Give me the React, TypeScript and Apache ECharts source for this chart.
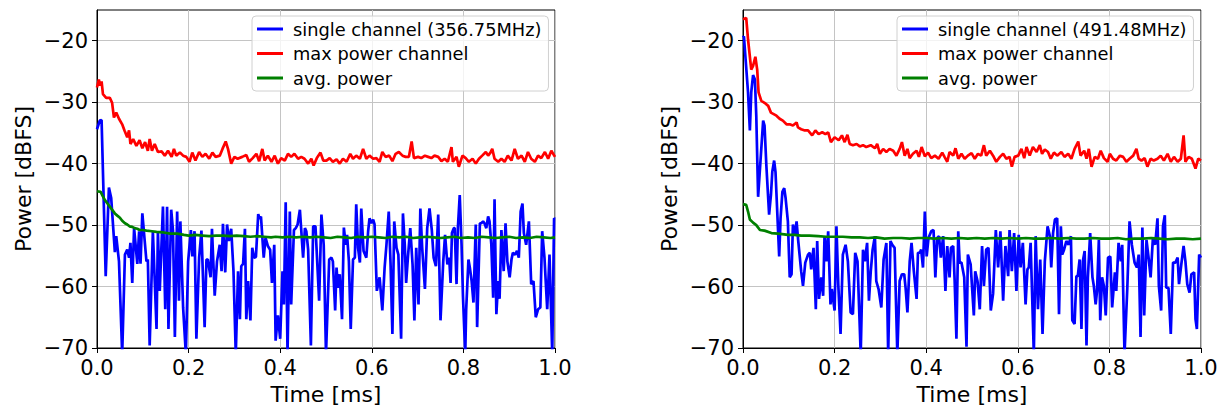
import React, { useEffect, useRef } from "react";
import * as echarts from "echarts";

const xTickValues = [0, 0.2, 0.4, 0.6, 0.8, 1.0];
const yTickValues = [-70, -60, -50, -40, -30, -20];
const xTitle = "Time [ms]";
const yTitle = "Power [dBFS]";
const leftNames = ["single channel (356.75MHz)", "max power channel", "avg. power"];
const rightNames = ["single channel (491.48MHz)", "max power channel", "avg. power"];

const leftSingle = [
  [0, -34.4], [0.006, -33.0], [0.010, -32.9], [0.019, -58.3], [0.026, -43.9], [0.031, -45.6], [0.039, -54.4], [0.042, -51.8],
  [0.048, -55.9], [0.055, -71], [0.061, -54.8], [0.066, -54.0], [0.070, -55.3], [0.073, -52.9], [0.077, -59.4], [0.081, -50.5],
  [0.088, -56.3], [0.092, -51.0], [0.095, -56.3], [0.099, -48.1], [0.103, -51.6], [0.108, -55.9], [0.111, -55.6], [0.115, -69.6],
  [0.122, -51.0], [0.130, -66.9], [0.133, -51.0], [0.137, -60.7], [0.144, -47.0], [0.149, -63.7], [0.153, -47.0], [0.156, -66.9],
  [0.162, -47.5], [0.166, -51.0], [0.170, -68.2], [0.175, -47.8], [0.179, -62.3], [0.182, -49.4], [0.188, -63.4], [0.194, -71],
  [0.199, -55.9], [0.205, -50.8], [0.208, -55.1], [0.213, -51.0], [0.217, -68.5], [0.223, -55.3], [0.228, -50.9], [0.235, -66.6],
  [0.239, -55.6], [0.242, -55.6], [0.248, -58.5], [0.251, -50.6], [0.257, -61.5], [0.262, -55.9], [0.268, -53.2], [0.272, -57.5],
  [0.275, -49.8], [0.280, -57.7], [0.284, -49.9], [0.288, -52.6], [0.293, -50.6], [0.298, -57.5], [0.303, -71], [0.308, -57.5],
  [0.312, -65.3], [0.315, -56.7], [0.319, -56.3], [0.323, -50.6], [0.326, -65.3], [0.330, -59.1], [0.335, -65.5], [0.339, -53.7],
  [0.343, -55.3], [0.347, -55.2], [0.352, -48.2], [0.355, -49.0], [0.358, -48.6], [0.364, -55.3], [0.368, -52.1], [0.373, -53.4],
  [0.378, -54.0], [0.382, -59.4], [0.387, -53.2], [0.390, -68.8], [0.395, -64.7], [0.400, -68.5], [0.405, -57.5], [0.408, -62.9],
  [0.412, -46.3], [0.416, -71], [0.421, -47.8], [0.424, -62.9], [0.430, -50.8], [0.434, -50.5], [0.438, -49.9], [0.443, -47.5],
  [0.450, -55.3], [0.454, -50.5], [0.457, -51.0], [0.461, -54.0], [0.467, -69.6], [0.472, -50.2], [0.477, -50.2], [0.485, -62.3],
  [0.490, -48.3], [0.495, -53.2], [0.500, -71], [0.507, -55.6], [0.512, -55.3], [0.515, -55.9], [0.520, -63.9], [0.523, -56.9],
  [0.526, -60.2], [0.530, -58.0], [0.535, -65.3], [0.539, -50.4], [0.543, -53.2], [0.546, -51.6], [0.550, -55.9], [0.554, -66.9],
  [0.559, -55.6], [0.563, -55.3], [0.566, -46.6], [0.570, -53.7], [0.574, -56.1], [0.577, -47.3], [0.582, -54.2], [0.588, -55.3],
  [0.592, -51.0], [0.595, -48.9], [0.599, -49.7], [0.603, -49.1], [0.606, -49.9], [0.611, -60.7], [0.617, -58.5], [0.623, -63.9],
  [0.628, -56.9], [0.632, -53.2], [0.637, -47.8], [0.641, -56.4], [0.645, -67.7], [0.649, -49.4], [0.654, -53.7], [0.658, -54.8],
  [0.664, -68.5], [0.668, -48.1], [0.672, -53.2], [0.675, -59.4], [0.679, -55.1], [0.684, -50.5], [0.689, -56.4], [0.693, -65.5],
  [0.697, -53.7], [0.702, -62.9], [0.706, -47.3], [0.710, -53.7], [0.716, -60.4], [0.721, -50.5], [0.726, -47.3], [0.731, -50.8],
  [0.735, -55.3], [0.740, -56.7], [0.745, -48.3], [0.750, -65.5], [0.756, -55.9], [0.760, -51.6], [0.765, -56.4], [0.769, -55.3],
  [0.772, -59.4], [0.775, -51.3], [0.779, -50.5], [0.781, -50.5], [0.785, -59.6], [0.788, -50.4], [0.792, -45.1], [0.796, -53.2],
  [0.799, -61.5], [0.804, -71], [0.806, -63.9], [0.811, -55.6], [0.814, -56.9], [0.818, -59.1], [0.822, -62.6], [0.827, -49.9],
  [0.830, -66.6], [0.836, -49.7], [0.839, -49.7], [0.843, -49.4], [0.846, -49.7], [0.850, -50.5], [0.854, -48.6], [0.857, -49.4],
  [0.861, -53.2], [0.865, -61.8], [0.868, -45.8], [0.872, -64.5], [0.876, -59.1], [0.879, -62.0], [0.883, -50.8], [0.888, -57.5],
  [0.892, -49.7], [0.896, -55.9], [0.901, -58.5], [0.905, -55.6], [0.908, -54.5], [0.913, -54.8], [0.917, -54.2], [0.921, -55.3],
  [0.925, -47.8], [0.929, -46.5], [0.932, -51.3], [0.937, -53.2], [0.943, -49.4], [0.948, -59.6], [0.953, -59.1], [0.958, -65.0],
  [0.963, -63.7], [0.968, -63.4], [0.972, -51.0], [0.977, -55.3], [0.983, -63.7], [0.988, -54.8], [0.994, -71], [0.998, -48.9],
  [1.0, -49.0],
];

const leftMax = [
  [0, -27.6], [0.004, -26.3], [0.007, -27.3], [0.010, -26.6], [0.013, -28.7], [0.020, -29.3], [0.028, -29.3], [0.033, -30.1],
  [0.037, -32.5], [0.042, -31.7], [0.048, -32.7], [0.055, -33.6], [0.060, -34.6], [0.066, -35.7], [0.070, -34.6], [0.073, -36.8],
  [0.079, -36.0], [0.086, -37.1], [0.093, -36.2], [0.099, -37.5], [0.105, -36.5], [0.111, -37.9], [0.115, -36.0], [0.120, -37.9],
  [0.126, -36.8], [0.133, -38.1], [0.141, -38.0], [0.148, -38.7], [0.155, -37.9], [0.163, -38.9], [0.168, -37.6], [0.173, -38.7],
  [0.181, -38.2], [0.188, -38.7], [0.195, -38.9], [0.202, -39.7], [0.208, -38.2], [0.215, -39.5], [0.223, -38.1], [0.230, -38.9],
  [0.237, -38.4], [0.245, -39.2], [0.252, -38.2], [0.259, -38.9], [0.268, -38.7], [0.274, -37.6], [0.281, -36.4], [0.286, -37.6],
  [0.293, -40.0], [0.300, -38.9], [0.307, -39.2], [0.317, -38.9], [0.326, -38.6], [0.332, -39.7], [0.340, -39.1], [0.348, -38.4],
  [0.354, -39.6], [0.361, -37.6], [0.366, -39.5], [0.373, -38.7], [0.381, -39.7], [0.388, -38.7], [0.395, -40.0], [0.402, -39.1],
  [0.410, -39.5], [0.417, -38.4], [0.424, -38.9], [0.431, -38.4], [0.439, -39.2], [0.446, -38.9], [0.453, -39.2], [0.461, -40.0],
  [0.468, -39.2], [0.473, -40.3], [0.480, -39.1], [0.488, -38.2], [0.494, -39.5], [0.501, -39.5], [0.508, -39.1], [0.515, -39.7],
  [0.523, -39.3], [0.530, -40.0], [0.537, -39.2], [0.545, -39.7], [0.553, -38.4], [0.559, -39.2], [0.566, -38.7], [0.574, -39.2],
  [0.581, -37.6], [0.588, -39.2], [0.595, -38.7], [0.603, -39.2], [0.610, -39.1], [0.617, -39.7], [0.623, -38.1], [0.630, -38.9],
  [0.638, -38.7], [0.645, -39.6], [0.652, -38.4], [0.659, -38.1], [0.667, -38.7], [0.674, -38.9], [0.681, -38.9], [0.687, -36.4],
  [0.692, -39.1], [0.701, -38.9], [0.708, -39.1], [0.716, -38.7], [0.723, -38.9], [0.730, -39.1], [0.737, -38.7], [0.745, -38.9],
  [0.752, -39.6], [0.759, -39.2], [0.766, -39.7], [0.774, -37.3], [0.777, -39.7], [0.785, -38.9], [0.790, -40.5], [0.798, -38.7],
  [0.805, -39.1], [0.812, -39.7], [0.820, -39.2], [0.827, -40.0], [0.834, -39.2], [0.841, -38.7], [0.849, -38.1], [0.854, -38.7],
  [0.859, -38.2], [0.863, -37.6], [0.868, -39.2], [0.876, -39.7], [0.883, -39.2], [0.890, -39.7], [0.897, -38.7], [0.905, -39.5],
  [0.912, -37.6], [0.919, -39.2], [0.927, -38.7], [0.934, -39.7], [0.941, -38.1], [0.948, -39.2], [0.956, -39.7], [0.963, -38.7],
  [0.970, -39.1], [0.978, -38.1], [0.985, -39.2], [0.992, -37.9], [1.0, -38.9],
];

const leftAvg = [
  [0, -44.5], [0.008, -44.6], [0.012, -45.2], [0.017, -45.9], [0.022, -46.4], [0.028, -47.0], [0.034, -47.6], [0.039, -48.1],
  [0.045, -48.5], [0.050, -48.8], [0.055, -49.3], [0.061, -49.7], [0.066, -49.9], [0.071, -50.2], [0.077, -50.3], [0.082, -50.5],
  [0.088, -50.6], [0.093, -50.8], [0.100, -50.8], [0.108, -50.9], [0.120, -51.0], [0.130, -51.1], [0.145, -51.2], [0.160, -51.4],
  [0.175, -51.4], [0.190, -51.6], [0.200, -51.7], [0.215, -51.6], [0.230, -51.7], [0.245, -51.8], [0.260, -51.7], [0.275, -51.7],
  [0.290, -51.8], [0.305, -51.7], [0.320, -51.8], [0.335, -51.9], [0.350, -51.8], [0.365, -51.9], [0.380, -52.0], [0.390, -51.9],
  [0.405, -52.0], [0.420, -51.9], [0.435, -52.0], [0.450, -51.9], [0.465, -52.0], [0.480, -51.9], [0.495, -52.0], [0.510, -52.1],
  [0.525, -51.9], [0.540, -52.0], [0.555, -52.1], [0.570, -51.9], [0.585, -52.0], [0.600, -51.9], [0.615, -52.0], [0.630, -52.1],
  [0.645, -51.9], [0.660, -52.0], [0.675, -51.9], [0.690, -52.1], [0.705, -52.0], [0.720, -51.9], [0.735, -52.0], [0.750, -52.1],
  [0.765, -52.0], [0.780, -51.9], [0.795, -52.1], [0.810, -52.0], [0.825, -52.1], [0.840, -51.9], [0.855, -52.0], [0.870, -52.1],
  [0.885, -52.0], [0.900, -51.9], [0.915, -52.1], [0.930, -52.0], [0.945, -52.1], [0.960, -51.9], [0.975, -52.0], [0.990, -52.1],
  [1.0, -52.0],
];

const rightSingle = [
  [0, -19.5], [0.002, -19.3], [0.011, -28.4], [0.015, -34.6], [0.018, -28.4], [0.022, -25.6], [0.026, -26.3], [0.029, -32.2],
  [0.033, -45.4], [0.044, -33.0], [0.047, -33.8], [0.051, -40.3], [0.057, -48.3], [0.061, -45.1], [0.064, -41.3], [0.068, -39.5],
  [0.071, -41.4], [0.079, -55.1], [0.082, -48.9], [0.086, -44.6], [0.090, -44.0], [0.093, -45.6], [0.098, -49.4], [0.102, -58.5],
  [0.106, -58.0], [0.109, -49.9], [0.113, -51.6], [0.117, -49.4], [0.120, -52.1], [0.127, -57.5], [0.131, -59.9], [0.136, -56.1],
  [0.142, -54.8], [0.146, -54.5], [0.149, -57.2], [0.154, -53.7], [0.159, -63.7], [0.162, -52.6], [0.166, -62.0], [0.171, -58.5],
  [0.175, -61.5], [0.178, -51.8], [0.182, -55.9], [0.186, -51.0], [0.191, -62.9], [0.194, -60.4], [0.200, -63.9], [0.204, -50.2],
  [0.208, -59.6], [0.213, -67.7], [0.218, -54.8], [0.224, -53.2], [0.229, -55.9], [0.235, -64.2], [0.240, -64.5], [0.245, -54.5],
  [0.250, -55.9], [0.257, -71], [0.262, -54.0], [0.266, -55.9], [0.271, -52.9], [0.275, -62.3], [0.279, -57.5], [0.283, -54.0],
  [0.288, -51.8], [0.291, -59.1], [0.296, -60.4], [0.302, -63.4], [0.307, -55.6], [0.313, -52.9], [0.317, -71], [0.322, -52.6],
  [0.326, -53.2], [0.331, -53.7], [0.337, -71], [0.342, -59.1], [0.347, -58.0], [0.352, -58.0], [0.355, -60.2], [0.359, -64.2],
  [0.364, -55.9], [0.368, -52.9], [0.373, -57.5], [0.379, -62.0], [0.382, -54.5], [0.386, -54.5], [0.389, -54.0], [0.393, -56.9],
  [0.397, -47.8], [0.401, -55.1], [0.405, -52.1], [0.411, -51.0], [0.416, -50.8], [0.420, -58.5], [0.424, -52.1], [0.428, -51.8],
  [0.432, -55.3], [0.437, -51.8], [0.442, -60.7], [0.446, -53.4], [0.451, -58.5], [0.454, -53.7], [0.459, -53.4], [0.462, -58.8],
  [0.466, -68.5], [0.470, -51.0], [0.473, -56.1], [0.477, -56.1], [0.483, -58.5], [0.488, -69.8], [0.491, -54.8], [0.497, -56.4],
  [0.504, -64.7], [0.507, -57.5], [0.512, -59.1], [0.517, -63.7], [0.522, -53.4], [0.526, -59.9], [0.531, -54.0], [0.536, -53.7],
  [0.541, -63.9], [0.546, -61.2], [0.552, -50.8], [0.557, -56.9], [0.562, -51.0], [0.568, -62.3], [0.573, -53.4], [0.579, -58.3],
  [0.582, -50.8], [0.587, -57.5], [0.592, -51.3], [0.597, -60.7], [0.602, -51.6], [0.606, -56.9], [0.611, -52.9], [0.617, -62.9],
  [0.621, -57.2], [0.624, -56.9], [0.628, -52.9], [0.635, -71], [0.639, -51.8], [0.644, -63.7], [0.649, -55.6], [0.654, -67.7],
  [0.659, -55.9], [0.665, -50.2], [0.670, -51.8], [0.673, -56.9], [0.677, -51.3], [0.681, -49.1], [0.686, -48.9], [0.690, -64.5],
  [0.694, -50.2], [0.697, -54.8], [0.701, -54.0], [0.706, -52.6], [0.711, -53.2], [0.716, -51.8], [0.719, -65.5], [0.724, -66.1],
  [0.728, -58.3], [0.731, -58.3], [0.735, -55.6], [0.739, -66.9], [0.742, -55.9], [0.746, -54.2], [0.750, -69.6], [0.753, -58.5],
  [0.758, -51.3], [0.763, -58.5], [0.766, -59.9], [0.770, -62.9], [0.773, -60.7], [0.777, -52.4], [0.780, -65.5], [0.784, -58.5],
  [0.788, -59.9], [0.792, -64.7], [0.797, -55.3], [0.802, -55.1], [0.806, -63.4], [0.812, -57.7], [0.815, -60.7], [0.820, -52.9],
  [0.825, -55.9], [0.828, -53.2], [0.833, -71], [0.839, -60.4], [0.844, -49.4], [0.849, -53.2], [0.855, -56.1], [0.860, -56.9],
  [0.864, -54.8], [0.868, -68.2], [0.872, -50.4], [0.876, -64.7], [0.881, -52.4], [0.886, -55.6], [0.890, -58.5], [0.895, -52.1],
  [0.900, -53.2], [0.905, -48.9], [0.908, -59.9], [0.913, -63.9], [0.917, -50.2], [0.921, -48.4], [0.924, -60.2], [0.929, -60.2],
  [0.934, -67.7], [0.939, -56.1], [0.944, -56.1], [0.949, -55.3], [0.952, -59.6], [0.957, -56.4], [0.962, -53.4], [0.966, -55.9],
  [0.970, -59.6], [0.975, -61.0], [0.979, -58.0], [0.985, -57.7], [0.988, -65.3], [0.991, -66.9], [0.996, -54.8], [1.0, -55.3],
];

const rightMax = [
  [0, -16.5], [0.007, -16.3], [0.011, -19.8], [0.018, -24.7], [0.022, -24.1], [0.027, -22.6], [0.031, -24.7], [0.034, -28.4],
  [0.040, -29.8], [0.047, -30.1], [0.055, -30.6], [0.061, -31.7], [0.066, -31.9], [0.073, -32.2], [0.080, -32.7], [0.087, -33.0],
  [0.095, -33.6], [0.102, -33.6], [0.109, -33.8], [0.117, -33.3], [0.120, -34.1], [0.127, -34.4], [0.135, -34.6], [0.142, -34.6],
  [0.151, -35.4], [0.158, -34.6], [0.165, -35.2], [0.173, -34.9], [0.180, -35.2], [0.186, -34.9], [0.192, -36.5], [0.200, -35.7],
  [0.209, -36.2], [0.216, -35.4], [0.222, -36.5], [0.228, -35.3], [0.233, -36.8], [0.240, -37.0], [0.248, -36.8], [0.255, -37.2],
  [0.262, -37.0], [0.269, -37.3], [0.279, -37.0], [0.288, -37.5], [0.293, -36.8], [0.299, -38.4], [0.306, -37.6], [0.313, -38.1],
  [0.320, -37.6], [0.328, -37.9], [0.335, -38.7], [0.342, -37.6], [0.347, -36.5], [0.353, -38.7], [0.359, -37.6], [0.364, -39.1],
  [0.371, -38.4], [0.379, -37.9], [0.384, -38.9], [0.390, -37.3], [0.397, -38.8], [0.404, -38.2], [0.411, -39.1], [0.419, -38.7],
  [0.427, -39.2], [0.435, -38.2], [0.440, -38.9], [0.446, -39.7], [0.451, -38.1], [0.459, -38.7], [0.464, -37.5], [0.470, -39.2],
  [0.477, -38.4], [0.484, -39.2], [0.491, -38.7], [0.499, -38.3], [0.506, -39.2], [0.513, -38.4], [0.520, -38.7], [0.526, -37.0],
  [0.531, -38.7], [0.539, -37.9], [0.546, -38.7], [0.553, -39.7], [0.561, -38.9], [0.568, -38.4], [0.575, -39.2], [0.582, -38.9],
  [0.587, -40.5], [0.593, -38.9], [0.601, -38.7], [0.608, -37.6], [0.614, -39.1], [0.619, -37.3], [0.626, -38.7], [0.633, -37.3],
  [0.641, -38.1], [0.648, -37.0], [0.653, -38.4], [0.659, -37.7], [0.666, -38.1], [0.672, -39.2], [0.679, -38.2], [0.686, -38.7],
  [0.695, -38.1], [0.702, -38.9], [0.710, -38.4], [0.717, -39.2], [0.724, -37.6], [0.732, -36.4], [0.737, -38.7], [0.745, -37.9],
  [0.750, -39.2], [0.755, -37.6], [0.761, -40.5], [0.768, -38.9], [0.775, -39.2], [0.781, -37.9], [0.788, -39.1], [0.796, -39.7],
  [0.801, -38.4], [0.808, -39.2], [0.815, -39.5], [0.823, -38.7], [0.830, -38.9], [0.837, -39.7], [0.844, -39.2], [0.852, -38.7],
  [0.859, -37.6], [0.864, -39.2], [0.870, -39.5], [0.877, -39.1], [0.883, -40.5], [0.890, -39.2], [0.897, -39.5], [0.905, -39.2],
  [0.912, -38.7], [0.919, -39.5], [0.927, -38.4], [0.934, -39.7], [0.941, -38.9], [0.949, -39.7], [0.956, -39.2], [0.962, -35.4],
  [0.966, -39.7], [0.973, -38.9], [0.980, -39.2], [0.988, -40.8], [0.994, -39.2], [1.0, -39.5],
];

const rightAvg = [
  [0, -46.6], [0.007, -46.7], [0.011, -47.8], [0.015, -49.1], [0.022, -49.6], [0.029, -50.0], [0.037, -50.8], [0.047, -50.9],
  [0.062, -51.3], [0.076, -51.4], [0.090, -51.5], [0.098, -51.6], [0.112, -51.6], [0.127, -51.7], [0.145, -51.7], [0.164, -51.8],
  [0.182, -51.9], [0.200, -51.9], [0.218, -51.9], [0.237, -52.0], [0.255, -52.0], [0.273, -52.1], [0.291, -52.0], [0.309, -52.2],
  [0.328, -52.1], [0.346, -52.1], [0.364, -52.2], [0.382, -52.1], [0.400, -52.1], [0.418, -52.2], [0.436, -52.1], [0.455, -52.2],
  [0.473, -52.1], [0.491, -52.2], [0.510, -52.1], [0.528, -52.2], [0.546, -52.1], [0.564, -52.2], [0.582, -52.1], [0.600, -52.2],
  [0.618, -52.1], [0.636, -52.2], [0.655, -52.2], [0.673, -52.1], [0.691, -52.2], [0.710, -52.1], [0.728, -52.2], [0.746, -52.2],
  [0.764, -52.1], [0.782, -52.2], [0.800, -52.2], [0.818, -52.1], [0.836, -52.3], [0.855, -52.2], [0.873, -52.2], [0.891, -52.1],
  [0.909, -52.2], [0.927, -52.3], [0.946, -52.2], [0.964, -52.2], [0.982, -52.3], [1.0, -52.2],
];

const BLUE = "#0000ff";
const RED = "#ff0000";
const GREEN = "#008000";
const FONT = "DejaVu Sans";

function fmtY(v: number) {
  return String(v).replace("-", "\u2212");
}

function makeAxes(idx: number) {
  const xAxis = {
    type: "value",
    gridIndex: idx,
    min: 0,
    max: 1,
    interval: 0.2,
    name: xTitle,
    nameLocation: "middle",
    nameGap: 35,
    nameTextStyle: { fontSize: 22, fontFamily: FONT, color: "#000" },
    axisLine: { show: true, onZero: false, lineStyle: { color: "#000", width: 1 } },
    axisTick: { show: true, length: 5, inside: false, lineStyle: { color: "#000", width: 1 }, customValues: xTickValues },
    axisLabel: {
      show: true,
      fontSize: 21,
      fontFamily: FONT,
      color: "#000",
      margin: 9,
      customValues: xTickValues,
      formatter: (v: number) => v.toFixed(1),
    },
    splitLine: { show: true, lineStyle: { color: "#c4c4c4", width: 1 } },
  };
  const yAxis = {
    type: "value",
    gridIndex: idx,
    min: -70,
    max: -15,
    interval: 10,
    name: yTitle,
    nameLocation: "middle",
    nameGap: 63,
    nameRotate: 90,
    nameTextStyle: { fontSize: 22, fontFamily: FONT, color: "#000" },
    axisLine: { show: true, onZero: false, lineStyle: { color: "#000", width: 1 } },
    axisTick: { show: true, length: 5, inside: false, lineStyle: { color: "#000", width: 1 }, customValues: yTickValues },
    axisLabel: {
      show: true,
      fontSize: 21,
      fontFamily: FONT,
      color: "#000",
      margin: 9,
      customValues: yTickValues,
      formatter: (v: number) => (v > -20 ? "" : fmtY(v)),
    },
    splitLine: { show: true, lineStyle: { color: "#c4c4c4", width: 1 } },
  };
  return { xAxis, yAxis };
}

function lineSeries(name: string, data: number[][], color: string, idx: number, z: number) {
  return {
    type: "line",
    name,
    data,
    xAxisIndex: idx,
    yAxisIndex: idx,
    showSymbol: false,
    symbol: "none",
    clip: true,
    z,
    lineStyle: { color, width: 2.7 },
    itemStyle: { color },
    emphasis: { disabled: true },
  };
}

function makeLegend(names: string[], left: number) {
  return {
    show: true,
    orient: "vertical",
    left,
    top: 16,
    data: names,
    icon: "rect",
    itemWidth: 26,
    itemHeight: 3,
    itemGap: 4.5,
    padding: [3, 7, 3, 5],
    backgroundColor: "rgba(255,255,255,0.8)",
    borderColor: "#d0d0d0",
    borderWidth: 1,
    borderRadius: 4,
    selectedMode: false,
    textStyle: { fontSize: 17.8, fontFamily: FONT, color: "#000", lineHeight: 20, padding: [0, 0, 0, 5] },
  };
}

export default function App() {
  const ref = useRef<HTMLDivElement>(null);
  useEffect(() => {
    if (!ref.current) return;
    const chart = echarts.init(ref.current, undefined, { renderer: "svg" });
    const a0 = makeAxes(0);
    const a1 = makeAxes(1);
    chart.setOption({
      animation: false,
      backgroundColor: "#fff",
      textStyle: { fontFamily: FONT },
      grid: [
        { left: 97, top: 10, width: 458, height: 341, show: true, borderColor: "#000", borderWidth: 1, backgroundColor: "transparent" },
        { left: 743, top: 10, width: 458, height: 341, show: true, borderColor: "#000", borderWidth: 1, backgroundColor: "transparent" },
      ],
      xAxis: [a0.xAxis, a1.xAxis],
      yAxis: [a0.yAxis, a1.yAxis],
      legend: [makeLegend(leftNames, 252), makeLegend(rightNames, 897)],
      series: [
        lineSeries(leftNames[0], leftSingle, BLUE, 0, 2),
        lineSeries(leftNames[1], leftMax, RED, 0, 3),
        lineSeries(leftNames[2], leftAvg, GREEN, 0, 4),
        lineSeries(rightNames[0], rightSingle, BLUE, 1, 2),
        lineSeries(rightNames[1], rightMax, RED, 1, 3),
        lineSeries(rightNames[2], rightAvg, GREEN, 1, 4),
      ],
    });
    return () => chart.dispose();
  }, []);
  return (
    <div
      ref={ref}
      style={{ position: "fixed", left: 0, top: 0, width: 1228, height: 410, background: "#fff" }}
    />
  );
}
